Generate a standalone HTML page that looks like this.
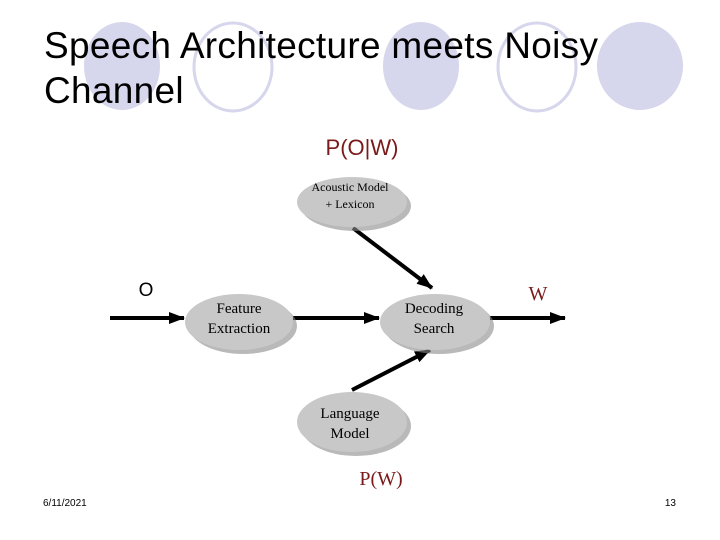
<!DOCTYPE html>
<html><head><style>
html,body{margin:0;padding:0;background:#fff;}
svg{display:block;}
</style></head><body>
<svg width="720" height="540" xmlns="http://www.w3.org/2000/svg">
<defs>
<marker id="ah2" markerWidth="16" markerHeight="12" refX="15" refY="6" orient="auto" markerUnits="userSpaceOnUse">
<path d="M0,0 L16,6 L0,12 z" fill="#000"/>
</marker>
</defs>
<ellipse cx="122" cy="66" rx="38" ry="44" fill="#d6d6ec"/>
<ellipse cx="233" cy="67" rx="39" ry="44" fill="none" stroke="#d6d6ec" stroke-width="3"/>
<ellipse cx="421" cy="66" rx="38" ry="44" fill="#d6d6ec"/>
<ellipse cx="537" cy="67" rx="39" ry="44" fill="none" stroke="#d6d6ec" stroke-width="3"/>
<ellipse cx="640" cy="66" rx="43" ry="44" fill="#d6d6ec"/>
<text x="44" y="58" font-family="Liberation Sans, sans-serif" font-size="37" letter-spacing="0.3" fill="#000">Speech Architecture meets Noisy</text>
<text x="44" y="103" font-family="Liberation Sans, sans-serif" font-size="37" letter-spacing="0.3" fill="#000">Channel</text>

<g stroke="#000" stroke-width="4">
<line x1="110" y1="318" x2="184" y2="318" marker-end="url(#ah2)"/>
<line x1="293" y1="318" x2="379" y2="318" marker-end="url(#ah2)"/>
<line x1="490" y1="318" x2="565" y2="318" marker-end="url(#ah2)"/>
<line x1="353" y1="228" x2="432" y2="288" marker-end="url(#ah2)"/>
<line x1="352" y1="390" x2="430" y2="350" marker-end="url(#ah2)"/>
</g>

<g>
<ellipse cx="243" cy="326" rx="54" ry="28" fill="#8a8a8a" opacity="0.6"/>
<ellipse cx="239" cy="322" rx="54" ry="28" fill="#c8c8c8"/>
<ellipse cx="439" cy="326" rx="55" ry="28" fill="#8a8a8a" opacity="0.6"/>
<ellipse cx="435" cy="322" rx="55" ry="28" fill="#c8c8c8"/>
<ellipse cx="356" cy="206" rx="55" ry="25" fill="#8a8a8a" opacity="0.6"/>
<ellipse cx="352" cy="202" rx="55" ry="25" fill="#c8c8c8"/>
<ellipse cx="356" cy="426" rx="55" ry="30" fill="#8a8a8a" opacity="0.6"/>
<ellipse cx="352" cy="422" rx="55" ry="30" fill="#c8c8c8"/>
</g>
<g font-family="Liberation Serif, serif" fill="#000" text-anchor="middle">
<text x="350" y="191" font-size="12">Acoustic Model</text>
<text x="350" y="208" font-size="12">+ Lexicon</text>
<text x="239" y="313" font-size="15">Feature</text>
<text x="239" y="333" font-size="15">Extraction</text>
<text x="434" y="313" font-size="15">Decoding</text>
<text x="434" y="333" font-size="15">Search</text>
<text x="350" y="418" font-size="15">Language</text>
<text x="350" y="438" font-size="15">Model</text>
</g>
<text x="362" y="155" font-family="Liberation Sans, sans-serif" font-size="22" fill="#7a1a1a" text-anchor="middle">P(O|W)</text>
<text x="146" y="296" font-family="Liberation Sans, sans-serif" font-size="19" fill="#000" text-anchor="middle">O</text>
<text x="538" y="300" font-family="Liberation Serif, serif" font-size="20" fill="#7a1a1a" text-anchor="middle">W</text>
<text x="381" y="485" font-family="Liberation Serif, serif" font-size="20" fill="#7a1a1a" text-anchor="middle">P(W)</text>

<text x="43" y="506" font-family="Liberation Sans, sans-serif" font-size="10" fill="#000">6/11/2021</text>
<text x="676" y="506" font-family="Liberation Sans, sans-serif" font-size="10" fill="#000" text-anchor="end">13</text>
</svg>
</body></html>
